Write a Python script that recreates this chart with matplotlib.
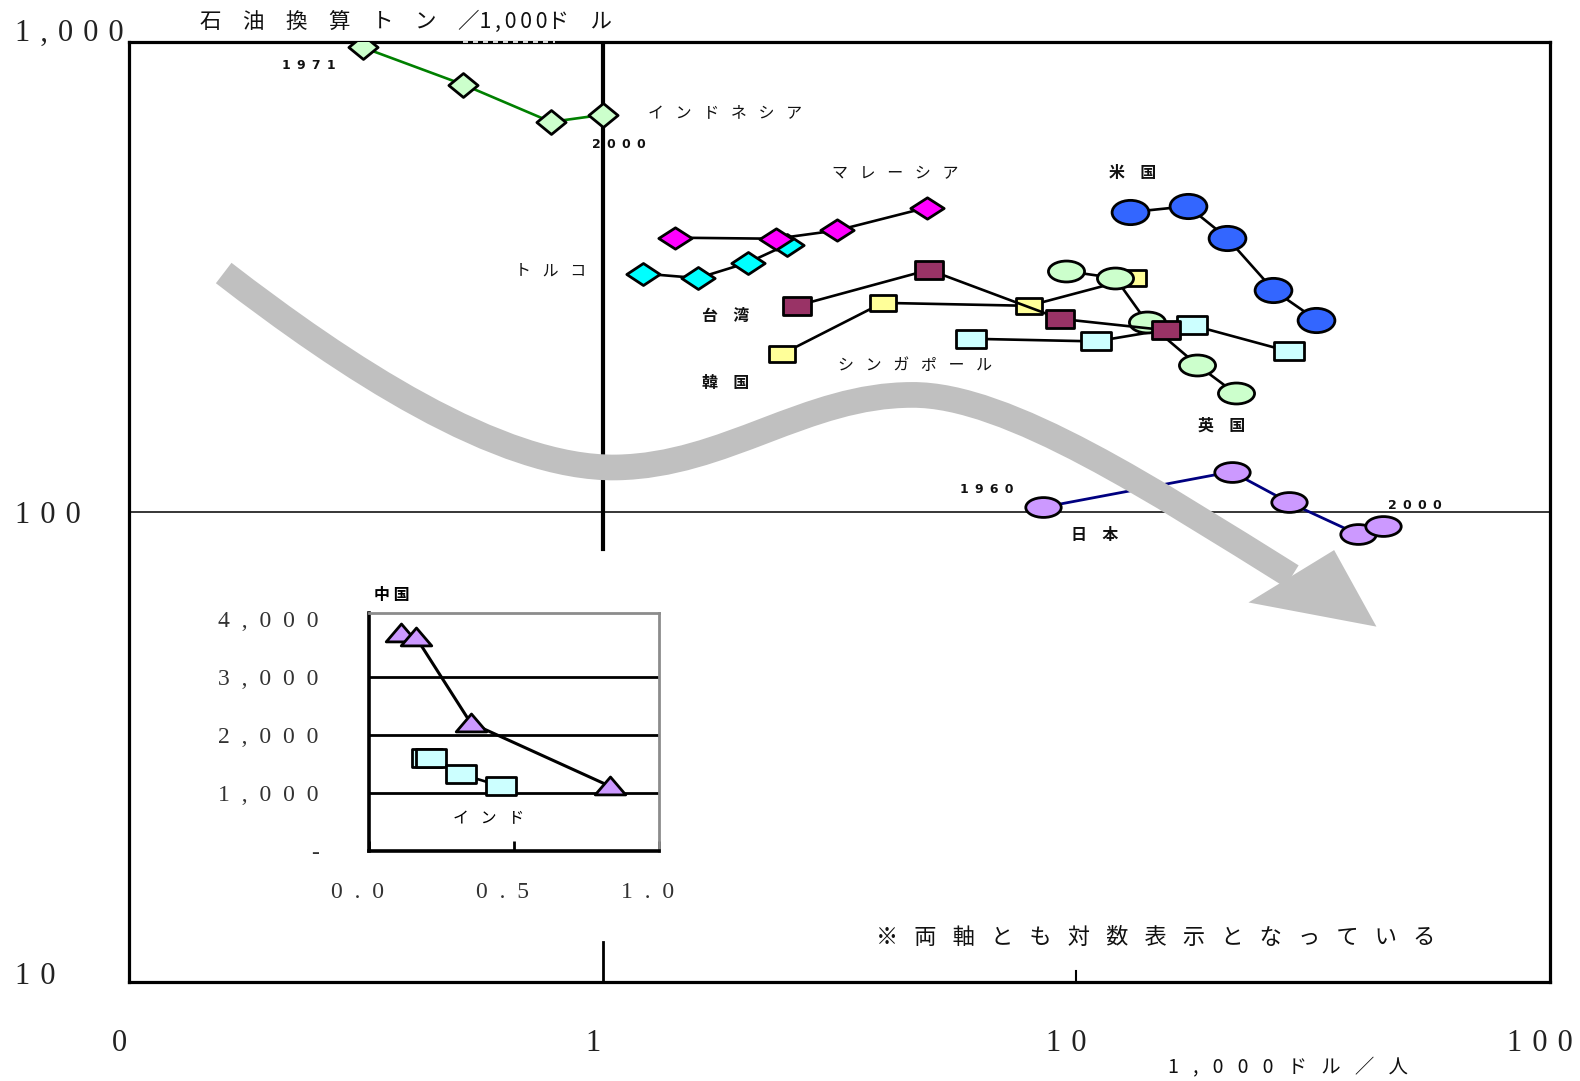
import numpy as np
import matplotlib
matplotlib.use("Agg")
import matplotlib.pyplot as plt
from matplotlib.path import Path
from matplotlib.patches import PathPatch, Polygon
import matplotlib.transforms as mtransforms

plt.rcParams['font.family'] = ['Noto Sans CJK JP', 'DejaVu Sans']
CJK = ['Noto Sans CJK JP', 'DejaVu Sans']
SERIF = ['Liberation Serif', 'DejaVu Serif']

# ---------------- data (x: 1,000$/person, y: toe per 1,000$) ----------------
indonesia_x = [0.312, 0.508, 0.778, 1.0]
indonesia_y = [975, 813, 677, 701]
malaysia_x = [1.42, 2.32, 3.13, 4.84]
malaysia_y = [384, 382, 398, 445]
turkey_x = [1.22, 1.59, 2.03, 2.45]
turkey_y = [322, 315, 340, 371]
taiwan_x = [2.57, 4.89, 9.25, 15.5]
taiwan_y = [275, 328, 258, 244]
korea_x = [2.39, 3.90, 7.94, 13.2]
korea_y = [217, 279, 275, 315]
singapore_x = [6.01, 11.0, 17.6, 28.1]
singapore_y = [234, 231, 250, 220]
uk_x = [9.52, 12.1, 14.1, 18.0, 21.7]
uk_y = [326, 315, 254, 206, 179]
usa_x = [13.0, 17.2, 20.8, 26.1, 32.1]
usa_y = [435, 448, 384, 297, 257]
japan_x = [8.51, 21.3, 28.1, 39.4, 44.4]
japan_y = [102.5, 122, 105, 89.7, 93.3]

# inset (linear axes)
china_x = [0.111, 0.163, 0.351, 0.830]
china_y = [3770, 3690, 2215, 1125]
india_x = [0.20, 0.215, 0.319, 0.455]
india_y = [1610, 1610, 1330, 1125]

main_xticks = [0.1, 1, 10, 100]
main_xticklabels = ['0', '1', '10', '100']
main_yticks = [10, 100, 1000]
main_yticklabels = ['10', '100', '1,000']
inset_yticks = [0, 1000, 2000, 3000, 4000]
inset_yticklabels = ['-', '1,000', '2,000', '3,000', '4,000']
inset_grid = [1000, 2000, 3000]
inset_xticks = [0.0, 0.5, 1.0]
inset_xticklabels = ['0.0', '0.5', '1.0']

# ---------------- layout helpers (reference pixel grid) ----------------
W, H = 1568.0, 1073.0
def fx(px):
    return px / W
def fy(py):
    return 1.0 - py / H
def axf(px, py):
    return ((px - 128) / 1410.0, 1 - (py - 42) / 933.0)

def spaced(s, gap='\u2002'):
    return gap.join(list(s))

# custom marker shapes
def closed(verts):
    verts = list(verts) + [verts[0]]
    codes = [Path.MOVETO] + [Path.LINETO] * (len(verts) - 2) + [Path.CLOSEPOLY]
    return Path(verts, codes)

def diamond(a):
    return closed([(-1, 0), (0, -a), (1, 0), (0, a)])

def rect(a):
    return closed([(-1, -a), (1, -a), (1, a), (-1, a)])

def ellipse(a):
    c = Path.unit_circle()
    return Path(c.vertices * np.array([1.0, a]), c.codes)

tri = closed([(-1, -0.55), (1, -0.55), (0, 0.62)])

fig = plt.figure(figsize=(15.8, 10.81), dpi=100)
ax = fig.add_axes([fx(128), fy(975), fx(1538) - fx(128), fy(42) - fy(975)])
ax.set_xscale('log')
ax.set_yscale('log')
ax.set_xlim(0.1, 100)
ax.set_ylim(10, 1000)

for s in ax.spines.values():
    s.set_linewidth(2.3)
    s.set_color('black')

# reference lines
ax.axhline(100, color='black', lw=1.1, zorder=1)
ax.axvline(1, ymin=(975 - 545) / 933.0, ymax=1, color='black', lw=3, zorder=1)
ax.axvline(1, ymin=0, ymax=(975 - 935) / 933.0, color='black', lw=2, zorder=1)
ax.axvline(10, ymin=0, ymax=0.012, color='black', lw=1.5, zorder=1)
ax.plot([0.235, 0.30], [1, 1], transform=ax.transAxes, color='white', lw=1.2,
        ls=(0, (3, 3)), clip_on=False, zorder=6)

def series(x, y, path, ms, face, line='black', lw=1.9):
    ax.plot(x, y, color=line, lw=lw, marker=path, markersize=ms,
            markerfacecolor=face, markeredgecolor='black', markeredgewidth=2.0,
            zorder=3)

series(indonesia_x, indonesia_y, diamond(0.82), 21, '#ccffcc', line='#008000')
series(turkey_x, turkey_y, diamond(0.66), 24, '#00ffff')
series(malaysia_x, malaysia_y, diamond(0.64), 24, '#ff00ff')
series(korea_x, korea_y, rect(0.62), 19, '#ffff99')
series(singapore_x, singapore_y, rect(0.6), 21, '#ccffff')
series(uk_x, uk_y, ellipse(0.58), 26, '#ccffcc')
series(taiwan_x, taiwan_y, rect(0.62), 20, '#993366')
series(usa_x, usa_y, ellipse(0.66), 26.5, '#3366ff')
series(japan_x, japan_y, ellipse(0.56), 25.5, '#cc99ff', line='#000080', lw=2)

# ticks
sp3 = '\u2004'
ax.set_xticks(main_xticks)
ax.set_xticklabels([spaced(t, sp3) for t in main_xticklabels], family=SERIF,
                   fontsize=22, color='#222222')
ax.xaxis.set_minor_locator(matplotlib.ticker.NullLocator())
ax.yaxis.set_minor_locator(matplotlib.ticker.NullLocator())
ax.tick_params(axis='x', length=0, pad=34)
ax.set_yticks(main_yticks)
ax.set_yticklabels([spaced(t, sp3) for t in main_yticklabels], family=SERIF,
                   fontsize=22, color='#222222')
ax.tick_params(axis='y', length=0, pad=82)
for lab in ax.get_xticklabels():
    lab.set_transform(lab.get_transform() +
                      mtransforms.ScaledTranslation(-0.10, 0, fig.dpi_scale_trans))
yoff = [0.09, 0.0, 0.12]
for lab, off in zip(ax.get_yticklabels(), yoff):
    lab.set_horizontalalignment('left')
    lab.set_transform(lab.get_transform() +
                      mtransforms.ScaledTranslation(0, off, fig.dpi_scale_trans))

# annotations
def label(px, py, s, size=11.5, bold=False, family=CJK, ha='center'):
    x, y = axf(px, py)
    ax.text(x, y, s, transform=ax.transAxes, ha=ha, va='center', fontsize=size,
            family=family, fontweight='bold' if bold else 'normal',
            color='#111111', clip_on=False, zorder=7)

gap = '\u2002 '
em = '\u2003'
label(403, 22, em.join(['石', '油', '換', '算', 'ト', 'ン', '／' + spaced('1,000', '\u2006') + 'ド', 'ル']),
      size=15.5)
label(306, 65, spaced('1971', '\u2002'), size=9, bold=True, family=['DejaVu Sans'])
label(614, 143, spaced('2000', '\u2002'), size=9, bold=True, family=['DejaVu Sans'])
label(720, 112, spaced('インドネシア', gap), size=11.5)
label(888, 172, spaced('マレーシア', gap), size=11.5)
label(1124, 172, spaced('米国', gap + ' '), size=11.5, bold=True)
label(546, 269, spaced('トルコ', gap), size=11.5)
label(720, 314, spaced('台湾', gap + ' '), size=11.5, bold=True)
label(908, 363, spaced('シンガポール', gap), size=11.5)
label(720, 380, spaced('韓国', gap + ' '), size=11.5, bold=True)
label(1212, 422, spaced('英国', gap + ' '), size=11.5, bold=True)
label(979, 486, spaced('1960', '\u2002'), size=9, bold=True, family=['DejaVu Sans'])
label(1086, 531, spaced('日本', gap + ' '), size=11.5, bold=True)
label(1404, 502, spaced('2000', '\u2002'), size=9, bold=True, family=['DejaVu Sans'])
label(1147, 931, spaced('※両軸とも対数表示となっている', gap), size=16)
label(1278, 1060, spaced('1,000ドル／人', gap), size=14)

# ---------------- big grey arrow (decoration) ----------------
pts = [(222, 271), (340, 362), (495, 466), (612, 464),
       (720, 462), (800, 392), (905, 392),
       (1000, 391), (1150, 490), (1282, 572)]
verts = [(fx(px), fy(py)) for px, py in pts]
codes = [Path.MOVETO] + [Path.CURVE4] * 9
shaft = PathPatch(Path(verts, codes), transform=fig.transFigure, fill=False,
                  lw=18.5, edgecolor='#c0c0c0', capstyle='butt', zorder=2)
fig.add_artist(shaft)
head = Polygon([(fx(1239), fy(598)), (fx(1366), fy(622)), (fx(1324), fy(546))],
               closed=True, transform=fig.transFigure, facecolor='#c0c0c0',
               edgecolor='none', zorder=2)
fig.add_artist(head)

# ---------------- inset (China / India) ----------------
axi = fig.add_axes([fx(366), fy(845), fx(654) - fx(366), fy(608) - fy(845)])
axi.set_xlim(0, 1)
axi.set_ylim(0, 4120)
for v in inset_grid:
    axi.axhline(v, color='black', lw=2, zorder=1)
axi.spines['left'].set_linewidth(2.6)
axi.spines['bottom'].set_linewidth(2.6)
axi.spines['top'].set_color('#8c8c8c')
axi.spines['right'].set_color('#8c8c8c')
axi.spines['top'].set_linewidth(2)
axi.spines['right'].set_linewidth(2)

axi.plot(india_x, india_y, color='black', lw=1.9, marker=rect(0.6), markersize=21,
         markerfacecolor='#ccffff', markeredgecolor='black', markeredgewidth=2, zorder=3)
axi.plot(china_x, china_y, color='black', lw=2.2, marker=tri, markersize=22,
         markerfacecolor='#cc99ff', markeredgecolor='black', markeredgewidth=2, zorder=4)

axi.set_yticks(inset_yticks)
axi.set_yticklabels([spaced(t, '\u2002') for t in inset_yticklabels], family=SERIF,
                    fontsize=17, color='#333333')
axi.tick_params(axis='y', length=0, pad=36)
axi.set_xticks(inset_xticks)
axi.set_xticklabels([spaced(t, '\u2002') for t in inset_xticklabels], family=SERIF,
                    fontsize=17, color='#333333')
axi.tick_params(axis='x', direction='in', length=7, width=2, pad=22)
for lab in axi.get_xticklabels():
    lab.set_transform(lab.get_transform() +
                      mtransforms.ScaledTranslation(-0.11, 0, fig.dpi_scale_trans))

axi.text((389 - 366) / 288.0, (845 - 591) / 237.0, spaced('中国', ' '),
         transform=axi.transAxes, ha='center', va='center', fontsize=11.5,
         fontweight='bold', family=CJK, clip_on=False)
axi.text((485 - 366) / 288.0, (845 - 813) / 237.0, spaced('インド', gap),
         transform=axi.transAxes, ha='center', va='center', fontsize=11.5,
         family=CJK, clip_on=False)

fig.savefig('out.png', dpi=100)
